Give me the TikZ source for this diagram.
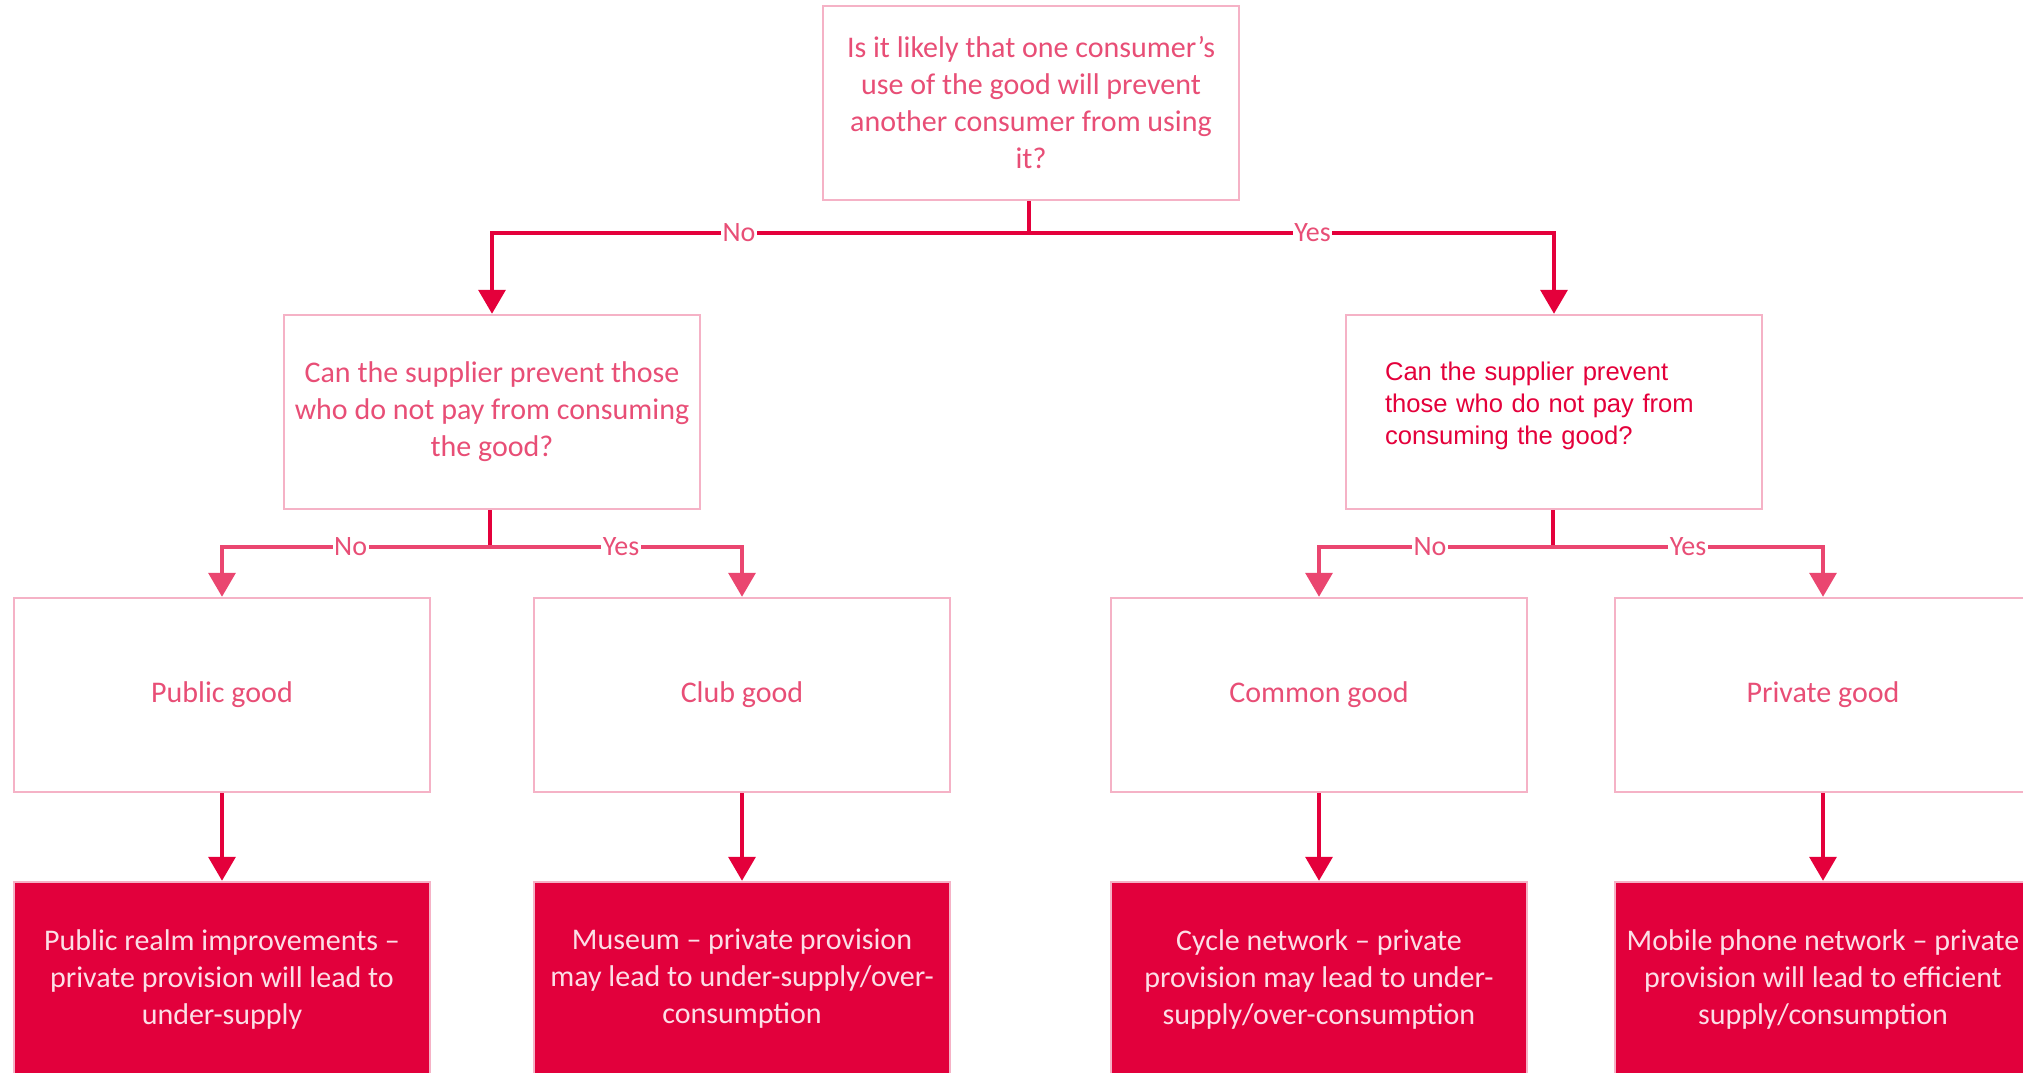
\documentclass[tikz,border=0pt]{standalone}
\usepackage{fontspec}
\setmainfont{Carlito}
\newfontfamily\arialf{Liberation Sans}
\usetikzlibrary{arrows.meta}
\definecolor{dred}{RGB}{228,0,59}
\definecolor{midred}{RGB}{234,70,112}
\definecolor{pinkt}{RGB}{232,78,118}
\definecolor{bordc}{RGB}{245,178,198}
\definecolor{rfill}{RGB}{226,0,60}
\definecolor{rtext}{RGB}{252,222,230}
\begin{document}
\begin{tikzpicture}[x=1pt,y=-1pt,
  qbox/.style={draw=bordc, line width=2.5pt, fill=white, minimum width=416pt, minimum height=194pt,
    inner sep=0pt, align=center, text=pinkt, font=\fontsize{30}{37}\selectfont},
  rbox/.style={qbox, fill=rfill, text=rtext},
  conn/.style={draw=dred, line width=3.5pt},
  conn2/.style={draw=midred, line width=3.5pt},
  arr/.style={-{Triangle[width=27pt,length=24pt]}},
  lbl/.style={fill=white, text=pinkt, inner sep=1.5pt, font=\fontsize{28}{30}\selectfont}]
\clip (0,0) rectangle (2023,1072);
\fill[white] (0,0) rectangle (2023,1072);

% top question
\node[qbox] (top) at (1031,103) {Is it likely that one consumer’s\\use of the good will prevent\\another consumer from using\\it?};

% second level
\node[qbox] (mL) at (492,412) {Can the supplier prevent those\\who do not pay from consuming\\the good?};
\node[qbox, text=dred, align=left, text width=338pt, font=\arialf\fontsize{25.6}{32}\selectfont] (mR) at (1554,412) {Can the supplier prevent\\those who do not pay from\\consuming the good?\\[-14pt]\mbox{}};

% third level
\node[qbox] (pub) at (222,695) {Public good};
\node[qbox] (club) at (742,695) {Club good};
\node[qbox] (com) at (1319,695) {Common good};
\node[qbox] (priv) at (1823,695) {Private good};

% fourth level
\node[rbox] (pubr) at (222,979) {Public realm improvements –\\private provision will lead to\\under-supply};
\node[rbox] (clubr) at (742,979) {Museum – private provision\\may lead to under-supply/over-\\consumption};
\node[rbox] (comr) at (1319,979) {Cycle network – private\\provision may lead to under-\\supply/over-consumption};
\node[rbox] (privr) at (1823,979) {Mobile phone network – private\\provision will lead to efficient\\supply/consumption};

% connectors level 1
\coordinate (j1) at (1029,233);
\draw[conn] (j1 |- top.south) -- (j1);
\draw[conn,arr] (j1) -| node[lbl,pos=0.27]{No} (mL.north);
\draw[conn,arr] (j1) -| node[lbl,pos=0.27]{Yes} (mR.north);

% connectors level 2
\coordinate (j2) at (490,547);
\coordinate (j3) at (1553,547);
\draw[conn] (j2 |- mL.south) -- (j2);
\draw[conn] (j3 |- mR.south) -- (j3);
\draw[conn2,arr] (j2) -| node[lbl,pos=0.26]{No} (pub.north);
\draw[conn2,arr] (j2) -| node[lbl,pos=0.26]{Yes} (club.north);
\draw[conn2,arr] (j3) -| node[lbl,pos=0.263]{No} (com.north);
\draw[conn2,arr] (j3) -| node[lbl,pos=0.25]{Yes} (priv.north);

% connectors level 3
\draw[conn,arr] (pub.south) -- (pubr.north);
\draw[conn,arr] (club.south) -- (clubr.north);
\draw[conn,arr] (com.south) -- (comr.north);
\draw[conn,arr] (priv.south) -- (privr.north);
\end{tikzpicture}
\end{document}
